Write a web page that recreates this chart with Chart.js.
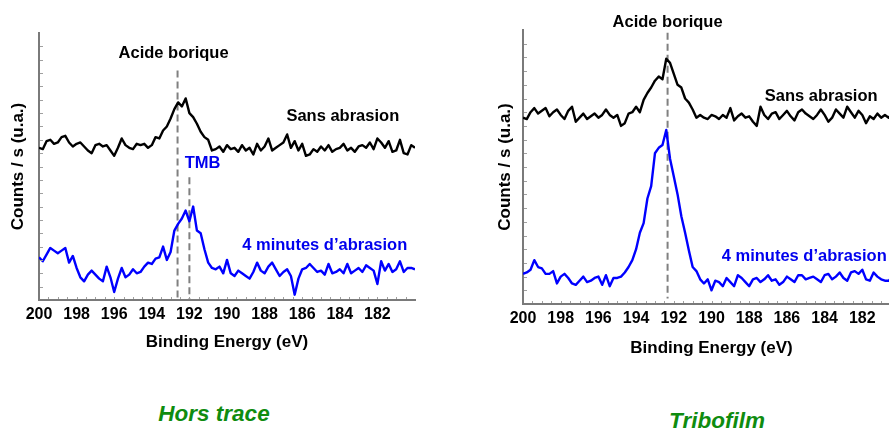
<!DOCTYPE html>
<html>
<head>
<meta charset="utf-8">
<script src="https://cdn.jsdelivr.net/npm/chart.js@4.4.1/dist/chart.umd.min.js"></script>
<style>
  html, body { margin: 0; padding: 0; background: #fff; width: 889px; height: 430px; overflow: hidden; }
  .panel { position: absolute; }
  .caption { position: absolute; font-family: 'Liberation Sans', Arial, sans-serif; font-weight: bold; font-style: italic;
             font-size: 22.5px; color: #0f8c0f; transform: translate(-50%, -50%); white-space: nowrap; }
</style>
</head>
<body>
<div class="panel" style="left:0;top:0;width:430px;height:360px"><canvas id="horsTrace"></canvas></div>
<div class="panel" style="left:480px;top:0;width:440px;height:370px"><canvas id="tribofilm"></canvas></div>
<div class="caption" style="left:214px;top:414px">Hors trace</div>
<div class="caption" style="left:717px;top:421px">Tribofilm</div>
<script>
// binding energy grid (eV), shared by all four spectra
const energies = [
  200, 199.8, 199.6, 199.4, 199.2, 199, 198.8, 198.6, 198.4, 198.2,
  198, 197.8, 197.6, 197.4, 197.2, 197, 196.8, 196.6, 196.4, 196.2,
  196, 195.8, 195.6, 195.4, 195.2, 195, 194.8, 194.6, 194.4, 194.2,
  194, 193.8, 193.6, 193.4, 193.2, 193, 192.8, 192.6, 192.4, 192.2,
  192, 191.8, 191.6, 191.4, 191.2, 191, 190.8, 190.6, 190.4, 190.2,
  190, 189.8, 189.6, 189.4, 189.2, 189, 188.8, 188.6, 188.4, 188.2,
  188, 187.8, 187.6, 187.4, 187.2, 187, 186.8, 186.6, 186.4, 186.2,
  186, 185.8, 185.6, 185.4, 185.2, 185, 184.8, 184.6, 184.4, 184.2,
  184, 183.8, 183.6, 183.4, 183.2, 183, 182.8, 182.6, 182.4, 182.2,
  182, 181.8, 181.6, 181.4, 181.2, 181, 180.8, 180.6, 180.4, 180.2,
  180
];

// Hors trace - sans abrasion (black)
const horsSans = [
  57, 56.5, 59.5, 60, 58.5, 59, 61, 61.5, 59, 57.5,
  58.5, 59, 57.5, 56, 55, 58, 58.5, 57.5, 58, 56,
  54, 57, 60.5, 58, 57, 56.5, 58.5, 58, 58.5, 57,
  58, 61, 60.5, 63.5, 65, 68, 71.5, 74, 72.5, 75.5,
  70, 68.5, 66, 63, 61, 60, 56, 56.5, 57.5, 55.5,
  58, 56.5, 57, 55.5, 58, 56, 57, 54.5, 58.5, 56,
  57.5, 60.5, 56, 57, 58, 59, 62, 57, 59.5, 56,
  58.5, 54, 54.5, 56.5, 55.5, 57.5, 56, 58, 55.5, 56.5,
  57, 58.5, 56, 57, 55.5, 57.5, 58, 57, 59, 56.5,
  60.5, 59, 57, 59.5, 55.5, 56, 60, 55, 54.5, 58,
  57
];
// Hors trace - 4 minutes d'abrasion (blue)
const horsAbrasion = [
  16, 14.5, 17, 19.5, 18.5, 17.5, 18.5, 19.5, 14, 16.5,
  12, 8.5, 7, 9.5, 11, 9.5, 8, 7, 12.5, 8.5,
  3, 8, 12, 8.5, 9.5, 11.5, 10, 10.5, 12.5, 14,
  13.5, 15.5, 16, 20, 15, 18, 26, 28.5, 30.5, 33.5,
  29.5, 35, 26, 25, 19, 14, 12, 11.5, 12.5, 10,
  15, 10, 9, 11, 10, 9, 8, 10.5, 14, 11,
  10, 12.5, 14, 11.5, 9, 10.5, 11.5, 9, 2, 8,
  11.5, 12, 13.5, 12, 10.5, 11, 9.5, 13.5, 10, 10.5,
  11.5, 10, 13.5, 10, 11, 12, 10.5, 13, 12, 11,
  6, 14.5, 11, 13.5, 10.5, 11.5, 14.5, 10.5, 12, 12,
  11.5
];

// Tribofilm - sans abrasion (black)
const triboSans = [
  68, 67.5, 70, 71.5, 69.5, 70.5, 71.5, 68.5, 70, 71,
  69, 67.5, 70.5, 72, 66.5, 68, 69.5, 67.5, 68.5, 69.5,
  68, 69, 71, 69, 68, 69, 65, 66, 69.5, 70,
  72, 70, 74.5, 77, 79, 81.5, 83, 82, 89.5, 88,
  84, 80, 79, 75, 73.5, 71, 68, 69, 68, 67.5,
  69, 68.5, 67.5, 69, 68, 71.5, 67, 68.5, 69.5, 68,
  68.5, 66.5, 65, 72, 69, 67.5, 69.5, 70, 67.5, 69,
  70.5, 68.5, 67, 70, 71, 69.5, 68.5, 67.5, 69, 71,
  69, 66.5, 68, 71, 69.5, 68, 72, 70, 68, 70.5,
  69, 66, 68.5, 67.5, 69.5, 68, 69, 68, 69.5, 68.5,
  69
];
// Tribofilm - 4 minutes d'abrasion (blue)
const triboAbrasion = [
  11, 11.5, 12.5, 16, 13.5, 13, 11, 11, 12, 7.5,
  10, 11, 9.5, 7.5, 7, 8.5, 10, 8, 8.5, 9.5,
  10, 7, 10.5, 6.5, 9.5, 9.5, 10, 11.5, 13.5, 16,
  20, 26, 29.5, 38.5, 43, 55, 57, 58, 63.5, 53,
  46.5, 40, 32, 26, 19.5, 13.5, 12, 9, 7.5, 9,
  5, 8.5, 8, 6.5, 9.5, 8, 6.5, 10.5, 9.5, 8,
  6.5, 9, 9.5, 8, 9, 10.5, 8.5, 9, 7, 8,
  10, 9, 8, 10.5, 10.5, 9, 9.5, 10, 9, 8,
  10.5, 11, 9, 10, 11.5, 9.5, 8.5, 11.5, 12, 11,
  12.5, 9, 8.5, 11.5, 10, 9, 8.5, 8.5, 10, 9.5,
  10
];

const xTicks = [200, 198, 196, 194, 192, 190, 188, 186, 184, 182];

const FONT = "'Liberation Sans', Arial, sans-serif";
const AXIS_GREY = '#7a7a7a';

const toPoints = vals => vals.map((v, i) => ({ x: energies[i], y: v }));

// dashed reference lines and in-plot labels, placed in data coordinates
const markers = {
  id: 'markers',
  beforeDatasetsDraw(chart, args, opts) {
    const { ctx, scales: { x, y } } = chart;
    ctx.save();
    ctx.strokeStyle = '#808080';
    ctx.lineWidth = 2;
    ctx.setLineDash([7, 4]);
    (opts.lines || []).forEach(l => {
      const px = x.getPixelForValue(l.x);
      ctx.beginPath();
      ctx.moveTo(px, y.getPixelForValue(l.from));
      ctx.lineTo(px, y.getPixelForValue(l.to));
      ctx.stroke();
    });
    ctx.restore();
  },
  afterDatasetsDraw(chart, args, opts) {
    const { ctx, scales: { x, y } } = chart;
    ctx.save();
    ctx.textAlign = 'center';
    ctx.textBaseline = 'middle';
    ctx.font = 'bold 16.5px ' + FONT;
    (opts.labels || []).forEach(t => {
      ctx.fillStyle = t.color;
      ctx.fillText(t.text, x.getPixelForValue(t.x), y.getPixelForValue(t.y));
    });
    ctx.restore();
  }
};

// short inner tick marks along both axes
const innerTicks = {
  id: 'innerTicks',
  afterDraw(chart) {
    const { ctx, chartArea: a, scales: { x, y } } = chart;
    ctx.save();
    ctx.strokeStyle = '#a0a0a0';
    ctx.lineWidth = 1;
    ctx.beginPath();
    for (let v = 5; v < 100; v += 5) {
      const py = Math.round(y.getPixelForValue(v)) + 0.5;
      ctx.moveTo(a.left + 1, py);
      ctx.lineTo(a.left + 4, py);
    }
    for (let e = 199.5; e > 180; e -= 0.5) {
      const px = Math.round(x.getPixelForValue(e)) + 0.5;
      ctx.moveTo(px, a.bottom - 1);
      ctx.lineTo(px, a.bottom - 3);
    }
    ctx.stroke();
    ctx.restore();
  }
};

function makeChart(id, sans, abrasion, box, marks) {
  return new Chart(document.getElementById(id), {
    type: 'line',
    data: {
      datasets: [
        { label: 'Sans abrasion', data: toPoints(sans), borderColor: '#000000', borderWidth: 2.4, borderJoinStyle: 'round' },
        { label: "4 minutes d'abrasion", data: toPoints(abrasion), borderColor: '#0000ff', borderWidth: 2.4, borderJoinStyle: 'round' }
      ]
    },
    options: {
      responsive: true,
      maintainAspectRatio: false,
      animation: false,
      elements: { point: { radius: 0 }, line: { tension: 0 } },
      layout: { padding: box.padding },
      plugins: {
        legend: { display: false },
        tooltip: { enabled: false },
        markers: marks
      },
      scales: {
        x: {
          type: 'linear',
          min: 180,
          max: 200,
          reverse: true,
          afterFit: s => { s.height = box.xHeight; },
          afterBuildTicks: s => { s.ticks = xTicks.map(v => ({ value: v })); },
          ticks: { color: '#000', font: { family: FONT, size: 16, weight: 'bold' }, padding: 5, maxRotation: 0, autoSkip: false },
          grid: { drawOnChartArea: false, drawTicks: false },
          border: { color: AXIS_GREY, width: 2 },
          title: { display: true, text: 'Binding Energy (eV)', color: '#000', font: { family: FONT, size: 17, weight: 'bold' }, padding: { top: 4, bottom: 4 } }
        },
        y: {
          min: 0,
          max: 100,
          afterFit: s => { s.width = box.yWidth; },
          ticks: { display: false },
          grid: { drawOnChartArea: false, drawTicks: false },
          border: { color: AXIS_GREY, width: 2 },
          title: { display: true, text: 'Counts / s (u.a.)', color: '#000', font: { family: FONT, size: 17, weight: 'bold' }, padding: { top: 4, bottom: 4 } }
        }
      }
    },
    plugins: [markers, innerTicks]
  });
}

makeChart('horsTrace', horsSans, horsAbrasion,
  { padding: { left: 4, top: 33, right: 15, bottom: 3 }, xHeight: 57, yWidth: 35 },
  {
    lines: [{ x: 192.63, from: 86, to: 0 }, { x: 192.0, from: 46, to: 0 }],
    labels: [
      { text: 'Acide borique', x: 192.84, y: 92.5, color: '#000' },
      { text: 'Sans abrasion', x: 183.84, y: 68.9, color: '#000' },
      { text: 'TMB', x: 191.3, y: 51.3, color: '#0000ee' },
      { text: "4 minutes d\u2019abrasion", x: 184.8, y: 20.6, color: '#0000ee' }
    ]
  });

makeChart('tribofilm', triboSans, triboAbrasion,
  { padding: { left: 11, top: 30, right: 20, bottom: 7 }, xHeight: 59, yWidth: 32 },
  {
    lines: [{ x: 192.33, from: 99, to: 2 }],
    labels: [
      { text: 'Acide borique', x: 192.33, y: 102.9, color: '#000' },
      { text: 'Sans abrasion', x: 184.18, y: 75.9, color: '#000' },
      { text: "4 minutes d\u2019abrasion", x: 185.08, y: 17.2, color: '#0000ee' }
    ]
  });
</script>
</body>
</html>
